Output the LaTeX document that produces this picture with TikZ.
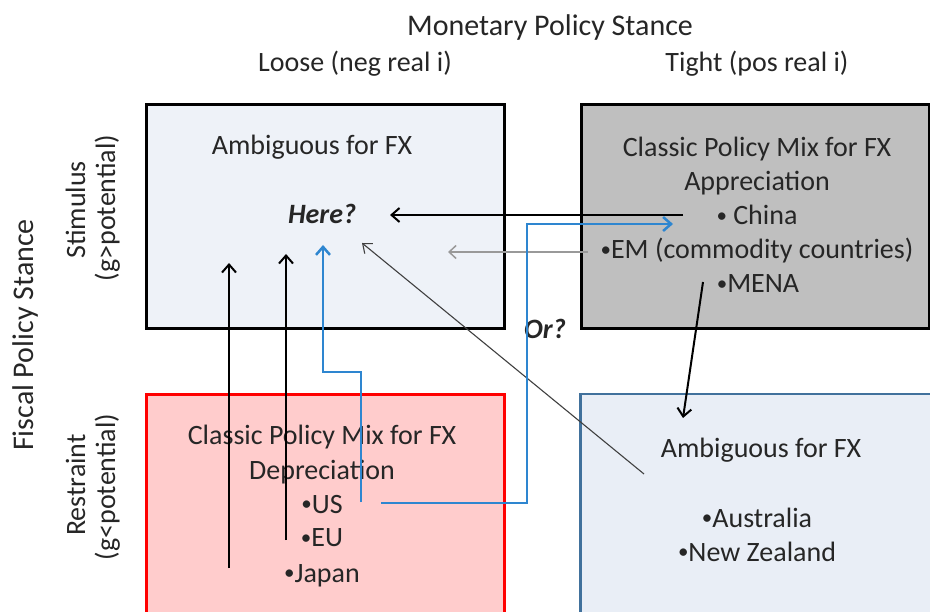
\documentclass[tikz,border=0pt]{standalone}
\usepackage{fontspec}
\setmainfont{Carlito}
\usepackage{tikz}
\usetikzlibrary{arrows.meta, positioning}
\definecolor{boxBlu}{RGB}{238,242,248}
\definecolor{boxGrigio}{RGB}{191,191,191}
\definecolor{boxRosa}{RGB}{255,204,204}
\definecolor{boxAzz}{RGB}{233,238,246}
\definecolor{bordoAzz}{RGB}{65,113,156}
\definecolor{linkBlu}{RGB}{46,134,208}
\definecolor{grigioScuro}{RGB}{38,38,38}
\newcommand{\puntino}{\raisebox{0.1em}{\fontsize{21}{21}\selectfont •}}

\begin{document}
\begin{tikzpicture}[x=1pt, y=-1pt,
    testo/.style={anchor=base, inner sep=0pt, text=grigioScuro, font=\fontsize{28}{34}\selectfont},
    titolo/.style={anchor=base, inner sep=0pt, text=grigioScuro, font=\fontsize{30}{36}\selectfont},
    domanda/.style={testo, font=\fontsize{28}{34}\selectfont\bfseries\itshape},
    quadro/.style={anchor=north west, inner sep=0pt, line width=3pt},
    nera/.style={-{Straight Barb[length=8pt, width=14pt]}, line width=2pt},
    grigia/.style={-{Straight Barb[length=7pt, width=13pt]}, line width=1.5pt, gray!80},
    sottile/.style={-{Straight Barb[length=8pt, width=13pt]}, line width=1.1pt, black!75},
    blu/.style={-{Straight Barb[length=8pt, width=14pt]}, line width=2.5pt, linkBlu}]
    \clip (0,0) rectangle (930,612);

    % Headers
    \node[titolo] (monetary) at (550,36) {Monetary Policy Stance};
    \node[testo] (loose) at (355,72) {Loose (neg real i)};
    \node[testo] (tight) at (757,72) {Tight (pos real i)};
    \node[titolo, rotate=90] (fiscal) at (34,335) {Fiscal Policy Stance};
    \node[testo, rotate=90] (stimulus) at (85,210) {Stimulus};
    \node[testo, rotate=90] (gstim) at (115,208) {(g>potential)};
    \node[testo, rotate=90] (restraint) at (85,485) {Restraint};
    \node[testo, rotate=90] (grest) at (115,487) {(g<potential)};

    % Quadrants
    \node[quadro, draw=black, fill=boxBlu, minimum width=358pt, minimum height=224pt] (loosestim) at (145,103) {};
    \node[quadro, draw=black, fill=boxGrigio, minimum width=348pt, minimum height=224pt] (tightstim) at (580,103) {};
    \node[quadro, draw=red, fill=boxRosa, minimum width=358pt, minimum height=260pt] (looserest) at (145,393) {};
    \node[quadro, line width=2.5pt, draw=bordoAzz, fill=boxAzz, minimum width=380pt, minimum height=260pt] (tightrest) at (579,393) {};

    % Loose / stimulus
    \node[testo] (ambA) at (312,155) {Ambiguous for FX};
    \node[domanda] (here) at (322,224) {Here?};

    % Tight / stimulus
    \node[testo] (mixA) at (757,157) {Classic Policy Mix for FX};
    \node[testo] (appr) at (757,191) {Appreciation};
    \node[testo] (china) at (757,225) {\puntino\ China};
    \node[testo] (em) at (757,259) {\puntino EM (commodity countries)};
    \node[testo] (mena) at (758,293) {\puntino MENA};

    % Loose / restraint
    \node[testo] (mixD) at (322,445) {Classic Policy Mix for FX};
    \node[testo] (depr) at (322,479) {Depreciation};
    \node[testo] (us) at (322,513) {\puntino US};
    \node[testo] (eu) at (322,547) {\puntino EU};
    \node[testo] (japan) at (322,582) {\puntino Japan};

    % Tight / restraint
    \node[testo] (ambB) at (761,457) {Ambiguous for FX};
    \node[testo] (aus) at (757,527) {\puntino Australia};
    \node[testo] (nz) at (757,561) {\puntino New Zealand};

    \node[domanda] (or) at (545,339) {Or?};

    % Arrow ends
    \coordinate (chinaS) at (683,215);
    \coordinate (hereR) at (390,215);
    \coordinate (emS) at (588,252);
    \coordinate (hereRL) at (448,252);
    \coordinate (ausS) at (644,474);
    \coordinate (hereD) at (362,243);
    \coordinate (menaS) at (703,282);
    \coordinate (ambT) at (683,418);
    \coordinate (japanS) at (229,568);
    \coordinate (hereJ) at (229,263);
    \coordinate (euS) at (286,540);
    \coordinate (hereE) at (286,254);
    \coordinate (usA) at (361,502);
    \coordinate (svolta) at (323,372);
    \coordinate (hereU) at (323,245);
    \coordinate (usB) at (381,503);
    \coordinate (orAngolo) at (527,224);
    \coordinate (chinaT) at (673,224);

    % Moves
    \draw[nera] (chinaS) -- (hereR);
    \draw[grigia] (emS) -- (hereRL);
    \draw[sottile] (ausS) -- (hereD);
    \draw[nera] (menaS) -- (ambT);
    \draw[nera] (japanS) -- (hereJ);
    \draw[nera] (euS) -- (hereE);
    \draw[blu] (usA) |- (svolta) -- (hereU);
    \draw[blu] (usB) -| (orAngolo) -- (chinaT);
\end{tikzpicture}
\end{document}
